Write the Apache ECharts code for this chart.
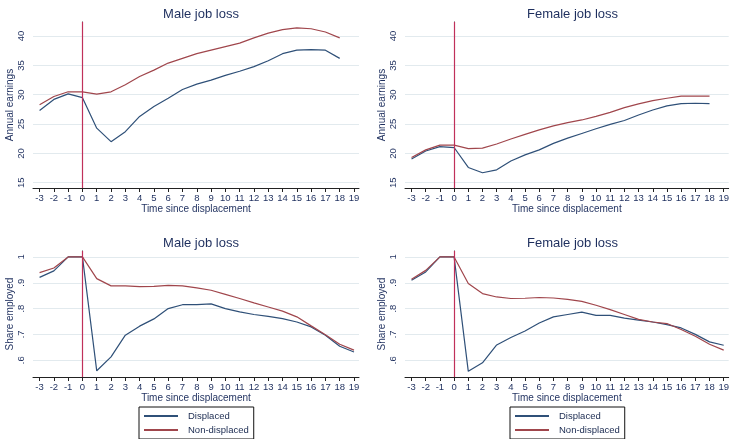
<!DOCTYPE html>
<html><head><meta charset="utf-8">
<script src="https://cdn.jsdelivr.net/npm/echarts@6/dist/echarts.min.js"></script>
<style>html,body{margin:0;padding:0;background:#fff}#c{width:732px;height:439px}</style>
</head><body><div id="c"></div>
<script>
// ---- data ----
var timeEarn = [-3,-2,-1,0,1,2,3,4,5,6,7,8,9,10,11,12,13,14,15,16,17,18];
var timeShare = [-3,-2,-1,0,1,2,3,4,5,6,7,8,9,10,11,12,13,14,15,16,17,18,19];
var maleEarnDisp = [27.3,29.2,30.15,29.5,24.3,22.0,23.7,26.3,28.0,29.4,30.9,31.8,32.5,33.3,34.0,34.8,35.8,37.0,37.6,37.7,37.6,36.2];
var maleEarnNon  = [28.3,29.7,30.5,30.5,30.1,30.5,31.7,33.1,34.2,35.4,36.2,37.0,37.6,38.2,38.8,39.7,40.5,41.1,41.4,41.25,40.7,39.7];
var femEarnDisp  = [19.05,20.4,21.15,21.0,17.6,16.7,17.2,18.7,19.75,20.6,21.7,22.6,23.4,24.2,24.95,25.6,26.55,27.4,28.1,28.5,28.55,28.5];
var femEarnNon   = [19.3,20.6,21.4,21.4,20.8,20.9,21.6,22.45,23.25,24.0,24.7,25.25,25.7,26.3,27.0,27.8,28.45,29.0,29.4,29.75,29.75,29.75];
var maleShareDisp = [0.921,0.946,1.0,1.0,0.559,0.613,0.697,0.732,0.760,0.800,0.815,0.815,0.818,0.800,0.787,0.777,0.770,0.761,0.748,0.729,0.697,0.654,0.632];
var maleShareNon  = [0.939,0.957,1.0,1.0,0.916,0.888,0.888,0.885,0.886,0.890,0.888,0.880,0.871,0.855,0.839,0.822,0.806,0.790,0.768,0.733,0.699,0.662,0.639];
var femShareDisp  = [0.910,0.942,1.0,1.0,0.557,0.590,0.659,0.688,0.713,0.744,0.768,0.777,0.786,0.774,0.774,0.763,0.755,0.748,0.738,0.725,0.700,0.671,0.658];
var femShareNon   = [0.914,0.948,1.0,1.0,0.897,0.858,0.845,0.839,0.840,0.843,0.841,0.836,0.828,0.813,0.796,0.777,0.758,0.748,0.742,0.719,0.693,0.662,0.639];
var xTicks = [-3,-2,-1,0,1,2,3,4,5,6,7,8,9,10,11,12,13,14,15,16,17,18,19];
var yTicksEarn = [15,20,25,30,35,40];
var yTicksShare = [0.6,0.7,0.8,0.9,1];
var yLabelsShare = ['.6','.7','.8','.9','1'];
var panelTitles = ['Male job loss','Female job loss','Male job loss','Female job loss'];
var seriesNames = ['Displaced','Non-displaced'];
var eventTime = 0;

// ---- styling ----
var FONT = 'Liberation Sans';
var NAVY = '#1e2f5e';
var BLUE = '#2f5078';
var RED = '#a0464c';
var VLINE = '#c0305a';
var GRIDC = '#e2eaee';

var grids = [
  {left:33, top:22, width:326, height:166},
  {left:405, top:22, width:325, height:166},
  {left:33, top:251, width:326, height:126},
  {left:405, top:251, width:325, height:126}
];
var yRanges = [[14.1,42.4],[14.1,42.4],[0.535,1.023],[0.535,1.023]];

function pairs(xs, ys){ return ys.map(function(v,i){return [xs[i], v];}); }

var xAxes = [], yAxes = [], series = [], titles = [];
for (var g = 0; g < 4; g++) {
  var isEarn = g < 2;
  xAxes.push({
    type:'value', gridIndex:g, min:-3.46, max:19.35,
    name:'Time since displacement', nameLocation:'middle', nameGap:16,
    nameTextStyle:{fontFamily:FONT, fontSize:10, color:NAVY},
    axisLine:{show:true, lineStyle:{color:'#222', width:1}},
    axisTick:{show:true, length:4, lineStyle:{color:'#222'}, customValues:xTicks},
    axisLabel:{fontFamily:FONT, fontSize:9.5, color:NAVY, margin:5, customValues:xTicks},
    splitLine:{show:false}
  });
  var yt = isEarn ? yTicksEarn : yTicksShare;
  yAxes.push({
    type:'value', gridIndex:g, min:yRanges[g][0], max:yRanges[g][1],
    name: isEarn ? 'Annual earnings' : 'Share employed',
    nameLocation:'middle', nameGap:13, nameRotate:90,
    nameTextStyle:{fontFamily:FONT, fontSize:10, color:NAVY},
    axisLine:{show:true, lineStyle:{color:'#222', width:1}},
    axisTick:{show:true, length:4, lineStyle:{color:'#222'}, customValues:yt},
    axisLabel:{fontFamily:FONT, fontSize:9.5, color:NAVY, rotate:90, margin:7, customValues:yt,
      formatter: isEarn ? function(v){return String(v);} : function(v){
        var i = yTicksShare.findIndex(function(t){return Math.abs(t-v)<1e-6;});
        return i>=0 ? yLabelsShare[i] : '';
      }},
    splitLine:{show:false}
  });
  titles.push({
    text: panelTitles[g],
    left: grids[g].left + grids[g].width/2, textAlign:'center',
    top: isEarn ? 3 : 232,
    textStyle:{fontFamily:FONT, fontSize:13, fontWeight:'normal', color:NAVY}
  });
  var xs = isEarn ? timeEarn : timeShare;
  var d1 = [maleEarnDisp, femEarnDisp, maleShareDisp, femShareDisp][g];
  var d2 = [maleEarnNon, femEarnNon, maleShareNon, femShareNon][g];
  series.push({name:seriesNames[0], type:'line', xAxisIndex:g, yAxisIndex:g, data:pairs(xs,d1),
    symbol:'none', lineStyle:{color:BLUE, width:1.2}, itemStyle:{color:BLUE}, z:3, animation:false,
    markLine:{silent:true, z:1, symbol:['none','none'], label:{show:false},
      lineStyle:{color:GRIDC, width:1, type:'solid'}, animation:false,
      data: yt.map(function(v){return {yAxis:v};})}});
  series.push({name:seriesNames[1], type:'line', xAxisIndex:g, yAxisIndex:g, data:pairs(xs,d2),
    symbol:'none', lineStyle:{color:RED, width:1.2}, itemStyle:{color:RED}, z:3, animation:false,
    markLine:{silent:true, z:5, symbol:['none','none'], label:{show:false},
      lineStyle:{color:VLINE, width:1.2, type:'solid'}, animation:false,
      data:[{xAxis:eventTime}]}});
}

var legendCommon = {
  orient:'vertical', data:seriesNames, itemWidth:34, itemHeight:11, itemGap:4,
  borderColor:'#111', borderWidth:1, borderRadius:0, padding:[4,5,4,4],
  itemStyle:{opacity:0},
  textStyle:{fontFamily:FONT, fontSize:9.5, color:'#1a2a50', padding:[0,0,0,5]},
  selectedMode:false
};
var chart = echarts.init(document.getElementById('c'), null, {renderer:'canvas'});
chart.setOption({
  animation:false,
  backgroundColor:'#fff',
  title: titles,
  grid: grids,
  xAxis: xAxes, yAxis: yAxes, series: series,
  legend: [
    Object.assign({left:139, top:407}, legendCommon),
    Object.assign({left:510, top:407}, legendCommon)
  ]
});
</script></body></html>
